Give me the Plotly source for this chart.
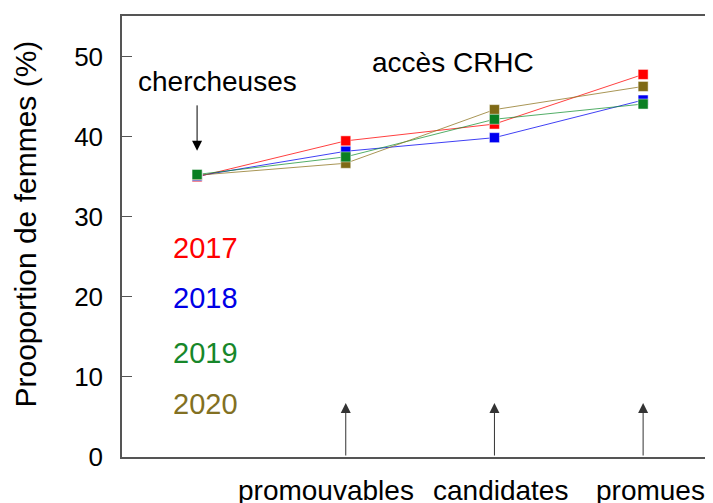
import plotly.graph_objects as go

# ---- data ----
categories = ["chercheuses", "promouvables", "candidates", "promues"]
years = ["2017", "2018", "2019", "2020"]
v2017 = [35.0, 39.5, 41.6, 47.8]
v2018 = [35.1, 38.2, 39.9, 44.6]
v2019 = [35.3, 37.5, 42.2, 44.1]
v2020 = [35.2, 36.7, 43.4, 46.3]
series = {"2017": v2017, "2018": v2018, "2019": v2019, "2020": v2020}
y_ticks = [0, 10, 20, 30, 40, 50]

marker_colors = {"2017": "#ff0000", "2018": "#0000f0", "2019": "#0a7f22", "2020": "#7f6a16"}
line_colors = {"2017": "rgba(255,0,0,0.75)", "2018": "rgba(0,0,240,0.75)",
               "2019": "rgba(10,140,40,0.7)", "2020": "rgba(140,115,30,0.75)"}
text_colors = {"2017": "#ff0000", "2018": "#0000e6", "2019": "#17872a", "2020": "#827022"}

xs = list(range(len(categories)))
FONT = "Liberation Sans, Arial, sans-serif"

fig = go.Figure()
for yr in years:
    fig.add_trace(go.Scatter(x=xs, y=series[yr], mode="lines",
                             line=dict(color=line_colors[yr], width=1),
                             showlegend=False, hoverinfo="skip"))
for yr in ["2017", "2018", "2020", "2019"]:
    fig.add_trace(go.Scatter(x=xs, y=series[yr], mode="markers",
                             marker=dict(symbol="square", size=10, color=marker_colors[yr],
                                         line=dict(color="rgba(255,255,255,0.6)", width=0.8)),
                             showlegend=False, name=yr))

# secondary axis for right-side inward ticks (no line)
fig.add_trace(go.Scatter(x=[None], y=[None], yaxis="y2", showlegend=False))

annotations = []
# year labels
year_y = {"2017": 26.1, "2018": 19.9, "2019": 13.0, "2020": 6.6}
for yr in years:
    annotations.append(dict(x=0, y=year_y[yr], xref="x", yref="y", text=yr,
                            showarrow=False, xanchor="left", yanchor="middle", xshift=-26,
                            font=dict(size=29, color=text_colors[yr], family=FONT)))
# texts
annotations.append(dict(x=0.14, y=46.9, xref="x", yref="y", text="chercheuses", showarrow=False,
                        font=dict(size=28, color="black", family=FONT)))
annotations.append(dict(x=1.72, y=49.25, xref="x", yref="y", text="accès CRHC", showarrow=False,
                        font=dict(size=28, color="black", family=FONT)))
# down arrow to chercheuses
annotations.append(dict(x=0, y=38.25, xref="x", yref="y", text="", showarrow=True,
                        ax=0, ay=-47, axref="pixel", ayref="pixel",
                        arrowhead=2, arrowsize=2, arrowwidth=1, arrowcolor="black"))
# up arrows
for i in [1, 2, 3]:
    annotations.append(dict(x=i, y=6.75, xref="x", yref="y", text="", showarrow=True,
                            ax=i, ay=0, axref="x", ayref="y",
                            arrowhead=2, arrowsize=2, arrowwidth=1, arrowcolor="#333333"))
# bottom category labels
shifts = {1: -20, 2: 6, 3: 7}
for i in [1, 2, 3]:
    annotations.append(dict(x=i, y=0, xref="x", yref="paper", text=categories[i],
                            showarrow=False, yanchor="top", yshift=-16, xshift=shifts[i],
                            font=dict(size=28, color="black", family=FONT)))
# y title
annotations.append(dict(x=0, y=0.5, xref="paper", yref="paper", text="Prooportion de femmes (%)",
                        showarrow=False, textangle=-90, xshift=-97, yshift=12,
                        xanchor="center", yanchor="middle",
                        font=dict(size=30, color="black", family=FONT)))

# page body has an 8px margin, so the figure is 8px smaller on each dimension
fig.update_layout(
    width=705, height=495,
    margin=dict(l=114, r=0, t=8, b=46),
    paper_bgcolor="white", plot_bgcolor="white",
    showlegend=False,
    annotations=annotations,
    xaxis=dict(range=[-0.505, 3.47], showgrid=False, zeroline=False,
               showline=True, linecolor="#555555", linewidth=1.5, mirror=True,
               showticklabels=False, ticks=""),
    yaxis=dict(range=[0, 55.1], tickvals=y_ticks, showgrid=False, zeroline=False,
               showline=True, linecolor="#555555", linewidth=1.5,
               ticks="inside", ticklen=10, tickcolor="#555555", tickwidth=1,
               ticklabelstandoff=12,
               tickfont=dict(size=26, color="black", family=FONT)),
    yaxis2=dict(range=[0, 55.1], tickvals=y_ticks, overlaying="y", side="right",
                showgrid=False, zeroline=False, showline=False,
                ticks="inside", ticklen=6, tickcolor="#666666", tickwidth=1,
                showticklabels=False),
)

fig.write_html("out.html")
